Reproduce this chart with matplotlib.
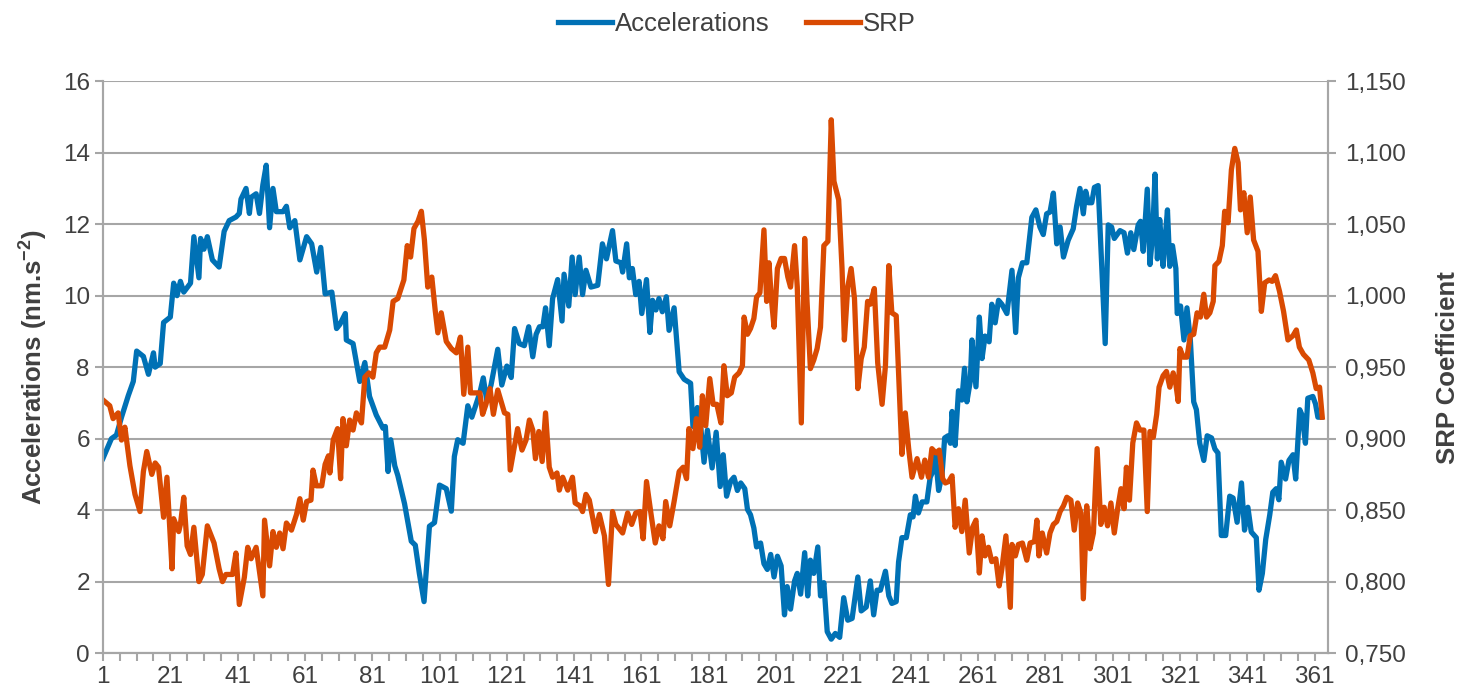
import matplotlib
matplotlib.use('Agg')
from matplotlib import pyplot as plt
from matplotlib.ticker import FuncFormatter

plt.rcParams['font.family'] = ['Liberation Sans', 'DejaVu Sans']
plt.rcParams['mathtext.fontset'] = 'custom'
plt.rcParams['mathtext.rm'] = 'Liberation Sans'
plt.rcParams['mathtext.bf'] = 'Liberation Sans:bold'

# accelerations (left axis), day of year -> nm.s-2
acc_day = [1, 3.5, 5, 6.5, 8.5, 10, 11, 13, 14.5, 16, 16.5, 18, 19, 21, 22, 23, 24, 25, 27, 28,
           29.5, 30, 31, 32, 33.5, 35.5, 37, 38.5, 40.5, 41.5, 42, 43.5, 44.5, 45, 46.5, 47.5, 48.5, 49.5, 50.5, 51.5,
           52.5, 54.5, 55.5, 56.5, 58, 59.5, 61.5, 63, 64.5, 65.7, 67, 69, 70.4, 71.4, 73, 73.3, 75.3, 77.3, 78.8, 80.2,
           82.2, 84.2, 84.9, 85.7, 86.5, 87.7, 88.6, 90.6, 92.6, 93.8, 95, 96.4, 98, 99.5, 101, 103, 104.5, 105.4, 106.4, 108,
           109.4, 110.6, 111.9, 113, 114, 115, 116.3, 118.3, 119.5, 121, 122.3, 123.3, 124.7, 126.2, 127.5, 128.7, 129.7, 130.7, 131.7, 132.5,
           133.6, 134.6, 136.1, 137.4, 138, 139.4, 140.4, 141.3, 142.5, 143.5, 144.5, 146, 148, 149.4, 150.6, 152.4, 153.4, 154.9, 155.4, 156.6,
           157.4, 158.3, 159.3, 160.3, 161.1, 162.5, 163.5, 164.3, 165.3, 166.2, 167.2, 168.4, 169.2, 170.7, 172.2, 173.7, 175.6, 176.3, 177.6, 178.6,
           179.6, 180.6, 182, 183.2, 184.4, 185.3, 186.3, 187.5, 188.5, 189.5, 190.5, 191.7, 192.5, 193.4, 194.4, 195.2, 196.4, 197.4, 198.4, 199.4,
           200.4, 201.4, 202.5, 203.5, 204.3, 205.3, 206.5, 207.3, 208.3, 209.5, 210.4, 211.2, 212.2, 213.4, 214.2, 215.2, 216.2, 217.4, 218.6, 219.9,
           221.1, 222.3, 223.6, 225.3, 226.3, 227.8, 229, 230, 231, 232, 233.5, 234.5, 235.4, 236.7, 237.4, 238.4, 239.7, 240.9, 241.7, 242.4,
           243.3, 244.4, 245.8, 246.8, 247.8, 248.3, 249.3, 250.3, 251.1, 252.1, 252.8, 253.3, 254.2, 255.2, 256.2, 257, 257.7, 258.7, 259.2, 260.4,
           261.4, 262.2, 263.1, 264.3, 265.1, 266.1, 267.1, 268.1, 269.6, 271.1, 272.2, 273, 274.2, 275.5, 277, 278.2, 279.4, 280.4, 281.4, 282.4,
           283.4, 284.4, 285.4, 286.4, 287.8, 289.3, 290.3, 291.3, 292.3, 293, 293.8, 294.8, 295.6, 296.7, 298.8, 299.7, 300.7, 301.5, 303.2, 304.4,
           305.4, 306.4, 307.3, 308.6, 309.3, 310.1, 311.3, 312.1, 312.9, 313.6, 314.3, 315, 316, 316.8, 317.3, 318, 318.8, 319.8, 320.2, 321.2,
           322.2, 323.1, 324.1, 325.1, 325.9, 326.9, 328.1, 329.1, 330.4, 331.4, 332.3, 333.3, 334.6, 335.8, 336.8, 338, 339.3, 340.2, 341.2, 342.2,
           343.7, 344.5, 345.5, 346.5, 347.7, 348.6, 349.6, 350.4, 351.1, 352.4, 353.4, 354.6, 355.4, 356.6, 357.3, 358.3, 359, 360.5, 361.3, 362,
           363]
acc_val = [5.45, 6.0, 6.1, 6.6, 7.2, 7.6, 8.45, 8.3, 7.8, 8.4, 8.0, 8.1, 9.25, 9.4, 10.35, 10.0, 10.4, 10.1, 10.35, 11.65,
           10.5, 11.6, 11.3, 11.65, 11.0, 10.8, 11.8, 12.1, 12.2, 12.3, 12.7, 13.0, 12.3, 12.75, 12.85, 12.3, 13.1, 13.65, 11.9, 13.0,
           12.35, 12.35, 12.5, 11.9, 12.1, 11.0, 11.65, 11.45, 10.66, 11.35, 10.05, 10.1, 9.08, 9.2, 9.5, 8.76, 8.66, 7.6, 8.13, 7.18,
           6.66, 6.29, 6.34, 5.08, 5.97, 5.24, 4.97, 4.18, 3.13, 3.02, 2.23, 1.44, 3.55, 3.65, 4.7, 4.6, 3.97, 5.5, 5.97, 5.87,
           6.92, 6.6, 6.97, 7.29, 7.7, 7.08, 7.5, 8.5, 7.5, 8.03, 7.71, 9.08, 8.66, 8.6, 9.13, 8.29, 8.92, 9.13, 9.13, 9.66,
           8.6, 9.92, 10.45, 9.29, 10.6, 9.71, 11.08, 10.03, 11.08, 10.03, 10.71, 10.24, 10.29, 11.45, 11.03, 11.82, 10.97, 10.92, 10.66, 11.45,
           10.5, 10.76, 10.03, 10.4, 9.5, 10.45, 8.97, 9.87, 9.6, 9.92, 9.55, 9.97, 9.03, 9.66, 7.87, 7.66, 7.55, 6.34, 6.87, 6.34,
           5.34, 6.24, 5.18, 6.18, 4.66, 5.55, 4.39, 4.81, 4.92, 4.55, 4.76, 4.6, 4.02, 3.87, 3.5, 2.97, 3.08, 2.5, 2.34, 2.76,
           2.13, 2.71, 2.44, 1.07, 1.86, 1.23, 2.02, 2.23, 1.65, 2.81, 1.6, 2.6, 2.23, 2.97, 1.6, 1.97, 0.6, 0.39, 0.55, 0.44,
           1.55, 0.92, 0.97, 2.13, 1.18, 1.29, 2.02, 1.07, 1.76, 1.76, 2.29, 1.6, 1.39, 1.44, 2.55, 3.23, 3.23, 3.87, 3.81, 4.39,
           3.92, 4.23, 4.23, 4.92, 5.13, 5.6, 4.55, 4.97, 6.02, 6.08, 5.87, 6.76, 5.81, 7.34, 7.08, 7.97, 7.03, 7.6, 8.76, 7.45,
           9.4, 8.24, 8.87, 8.71, 9.76, 9.24, 9.87, 9.76, 9.5, 10.71, 8.97, 10.5, 10.92, 10.92, 12.19, 12.4, 11.92, 11.71, 12.29, 12.34,
           12.87, 11.45, 11.92, 11.08, 11.55, 11.87, 12.5, 13.0, 12.29, 12.92, 12.6, 12.6, 13.03, 13.08, 8.66, 11.98, 11.92, 11.6, 11.82, 11.76,
           11.19, 11.76, 11.29, 11.98, 12.08, 11.24, 12.98, 10.87, 11.71, 13.4, 11.03, 12.13, 10.82, 11.82, 12.4, 10.82, 11.4, 10.76, 9.5, 9.71,
           8.76, 9.66, 8.76, 7.03, 6.81, 5.87, 5.39, 6.08, 6.02, 5.71, 5.6, 3.29, 3.29, 4.39, 4.34, 3.66, 4.76, 3.44, 4.08, 3.39,
           3.23, 1.76, 2.23, 3.18, 3.87, 4.5, 4.6, 4.29, 5.34, 4.87, 5.39, 5.55, 4.87, 6.81, 6.66, 5.87, 7.13, 7.18, 6.97, 6.6,
           6.6]

# SRP coefficient (right axis)
srp_day = [1, 3, 4, 5.5, 6.5, 7.5, 9, 10.5, 12, 13, 14, 15.5, 16.5, 17.5, 19, 20, 21.5, 22, 23.5, 24,
           25, 26, 27, 28, 29.5, 30.5, 32, 34, 35.5, 36.5, 37.5, 39.5, 40.5, 41.5, 43, 44, 45, 46.5, 48.5, 49,
           50.5, 51.5, 52.5, 53.5, 54.5, 55.5, 57, 58.5, 59.5, 60.5, 61.5, 62.8, 63.4, 64.4, 66, 67, 68, 68.4, 69.4, 70.7,
           71.6, 72.3, 73.3, 74.3, 75.3, 76.3, 77.8, 78.8, 80, 81.2, 82.2, 83.2, 84.7, 86.2, 87.2, 88.6, 90.4, 91.4, 92.4, 93.4,
           94.6, 95.6, 96.5, 97.5, 98.7, 99.7, 100.5, 101.5, 103, 104.5, 106, 107.2, 108.2, 109.4, 110.2, 111.4, 113, 113.8, 114.8, 116,
           117, 118.3, 120.3, 121.3, 122, 124.2, 125.5, 126.7, 127.7, 128.7, 129.5, 130.5, 131.5, 132.5, 133.6, 134.6, 135.9, 136.6, 137.6, 139.1,
           140.5, 141.3, 142.7, 143.5, 144.5, 145.5, 147.3, 148.5, 150, 151.2, 152.4, 153.4, 155.4, 156.9, 158.1, 159.3, 160.6, 161.5, 162.5, 163.8,
           165.1, 166.2, 167.4, 168.2, 169.4, 170.7, 172.2, 173.4, 174.4, 175.1, 176.3, 177.3, 178.3, 179.1, 180.1, 181.3, 182.3, 183.4, 184.6, 185.5,
           186.5, 187.7, 188.7, 190, 191, 191.5, 192.5, 193.4, 194.4, 195.2, 196.2, 197.4, 198.2, 198.9, 199.6, 200.4, 201.4, 202.5, 203.5, 204.5,
           205.3, 206.5, 207.3, 208.5, 209.5, 210.2, 211.2, 212.2, 213.2, 214.2, 215.2, 216.4, 217.4, 218.2, 219.6, 220.6, 221.3, 222.3, 223.3, 224.3,
           225.3, 226.3, 227.2, 228.2, 229, 230.2, 231.2, 232.5, 233.5, 234.5, 235.4, 236.7, 237.4, 238.4, 239.4, 240.4, 241.4, 242.9, 244.2, 245.2,
           246.3, 247.3, 248.5, 249.5, 250.5, 251.3, 252.3, 253.3, 254.2, 255.2, 256.2, 257.2, 258.4, 259.4, 260.4, 261.4, 262.2, 263.1, 264.1, 265.1,
           266.3, 267.3, 268.1, 269.3, 270.6, 271.1, 272.1, 273, 274.2, 275.5, 276.5, 277.8, 278.5, 279.1, 280.1, 281.4, 282.4, 283.4, 284.4, 285.4,
           286.4, 287.4, 288.6, 289.6, 290.6, 291.6, 292.3, 293.3, 294.3, 295.3, 296.4, 297.5, 298.5, 299.5, 300.5, 301.5, 302.5, 303.5, 304.4, 305.1,
           306, 307, 308.1, 309.1, 310.3, 311.3, 312.1, 313.1, 314.1, 314.8, 316, 317, 318, 319, 319.8, 320.5, 321, 322, 323.1, 324.1,
           325.1, 326.1, 327.1, 328.1, 328.9, 329.9, 330.9, 331.4, 332.6, 333.6, 334.3, 335.3, 336.3, 337.3, 338.3, 339, 340, 341, 341.9, 342.9,
           344.2, 345.2, 346.2, 347.5, 348.4, 349.4, 350.6, 351.8, 353.1, 354.6, 355.6, 356.5, 357.7, 359.3, 360.5, 361.5, 362.5, 363.3]
srp_val = [0.927, 0.923, 0.914, 0.918, 0.899, 0.908, 0.881, 0.861, 0.849, 0.877, 0.891, 0.875, 0.883, 0.880, 0.845, 0.873, 0.809, 0.844, 0.835, 0.840,
           0.859, 0.825, 0.819, 0.838, 0.800, 0.805, 0.839, 0.827, 0.809, 0.800, 0.805, 0.805, 0.820, 0.784, 0.803, 0.824, 0.816, 0.824, 0.790, 0.843,
           0.811, 0.835, 0.824, 0.834, 0.823, 0.841, 0.836, 0.847, 0.858, 0.843, 0.856, 0.857, 0.878, 0.867, 0.867, 0.882, 0.888, 0.876, 0.899, 0.907,
           0.872, 0.914, 0.895, 0.913, 0.906, 0.918, 0.911, 0.943, 0.946, 0.943, 0.960, 0.964, 0.964, 0.976, 0.996, 0.998, 1.011, 1.035, 1.027, 1.047,
           1.052, 1.059, 1.039, 1.006, 1.013, 0.990, 0.974, 0.988, 0.968, 0.963, 0.960, 0.971, 0.931, 0.964, 0.932, 0.932, 0.932, 0.917, 0.924, 0.935,
           0.917, 0.934, 0.918, 0.917, 0.878, 0.907, 0.892, 0.899, 0.913, 0.906, 0.886, 0.905, 0.884, 0.918, 0.880, 0.873, 0.876, 0.864, 0.873, 0.864,
           0.873, 0.855, 0.853, 0.849, 0.861, 0.857, 0.835, 0.847, 0.832, 0.798, 0.849, 0.840, 0.834, 0.848, 0.840, 0.848, 0.849, 0.830, 0.870, 0.848,
           0.827, 0.839, 0.830, 0.856, 0.839, 0.856, 0.877, 0.880, 0.872, 0.907, 0.893, 0.914, 0.894, 0.930, 0.909, 0.942, 0.924, 0.924, 0.911, 0.951,
           0.930, 0.932, 0.943, 0.946, 0.951, 0.985, 0.973, 0.977, 0.984, 0.999, 1.002, 1.046, 0.996, 1.023, 0.998, 0.978, 1.019, 1.026, 1.026, 1.013,
           1.006, 1.035, 1.006, 0.911, 1.040, 0.996, 0.949, 0.955, 0.963, 0.978, 1.035, 1.038, 1.123, 1.080, 1.067, 1.019, 0.969, 1.006, 1.019, 0.998,
           0.935, 0.956, 0.964, 0.996, 0.994, 1.005, 0.953, 0.924, 0.951, 1.021, 0.988, 0.986, 0.946, 0.889, 0.918, 0.893, 0.873, 0.886, 0.873, 0.885,
           0.873, 0.893, 0.890, 0.892, 0.872, 0.869, 0.870, 0.874, 0.838, 0.851, 0.835, 0.857, 0.820, 0.838, 0.843, 0.806, 0.832, 0.818, 0.824, 0.814,
           0.816, 0.797, 0.809, 0.832, 0.782, 0.826, 0.818, 0.826, 0.827, 0.815, 0.827, 0.828, 0.843, 0.818, 0.834, 0.820, 0.834, 0.840, 0.842, 0.849,
           0.853, 0.859, 0.857, 0.836, 0.855, 0.848, 0.788, 0.853, 0.823, 0.834, 0.893, 0.840, 0.852, 0.839, 0.855, 0.834, 0.851, 0.865, 0.851, 0.880,
           0.857, 0.897, 0.911, 0.906, 0.906, 0.849, 0.905, 0.901, 0.917, 0.936, 0.944, 0.947, 0.936, 0.946, 0.938, 0.926, 0.963, 0.957, 0.957, 0.972,
           0.973, 0.988, 0.985, 1.001, 0.985, 0.988, 0.996, 1.021, 1.024, 1.035, 1.059, 1.051, 1.088, 1.103, 1.093, 1.060, 1.072, 1.044, 1.069, 1.039,
           1.031, 0.989, 1.009, 1.011, 1.010, 1.014, 1.003, 0.989, 0.969, 0.972, 0.976, 0.964, 0.959, 0.955, 0.946, 0.935, 0.936, 0.915]

x_labels = list(range(1, 362, 20))

blue = '#0071B5'
orange = '#D94A02'
grid_c = '#A6A6A6'
text_c = '#404040'

fig = plt.figure(figsize=(14.59, 7.0), dpi=100)
ax = fig.add_axes([0.0706, 0.067, 0.8396, 0.817])
ax2 = ax.twinx()

l1, = ax.plot(acc_day, acc_val, color=blue, lw=3.8, solid_joinstyle='round', label='Accelerations')
l2, = ax2.plot(srp_day, srp_val, color=orange, lw=3.8, solid_joinstyle='round', label='SRP')

ax.set_xlim(1, 365)
ax.set_ylim(0, 16)
ax2.set_ylim(0.75, 1.15)
ax.set_yticks(range(0, 17, 2))
ax2.set_yticks([0.75 + 0.05 * i for i in range(9)])
ax2.yaxis.set_major_formatter(FuncFormatter(lambda v, p: '{:.3f}'.format(v).replace('.', ',')))
ax.set_xticks(x_labels)
ax.set_xticks(list(range(1, 366, 5)), minor=True)

ax.grid(axis='y', color=grid_c, lw=1.5)
ax.set_axisbelow(True)
for a in (ax, ax2):
    for s in a.spines.values():
        s.set_color(grid_c)
        s.set_linewidth(1.5)
    a.spines['top'].set_visible(False)
ax.tick_params(axis='both', which='both', color=grid_c, width=1.5, length=6, labelsize=17.5, labelcolor=text_c)
ax.tick_params(axis='x', which='major', pad=3)
ax2.tick_params(axis='y', color=grid_c, width=1.5, length=6, labelsize=17.5, labelcolor=text_c, pad=6)

ax.set_ylabel(r'Accelerations (nm.s$^{\mathbf{-2}}$)', fontsize=18.5, fontweight='bold', color=text_c, labelpad=10)
ax2.set_ylabel('SRP Coefficient', fontsize=18.5, fontweight='bold', color=text_c, labelpad=22)

fig.legend(handles=[l1, l2], loc='center', bbox_to_anchor=(0.505, 0.966), ncol=2, frameon=False,
           fontsize=18.5, handlelength=2.1, columnspacing=1.4, handletextpad=0.12, labelcolor=text_c)

fig.savefig('out.png', dpi=100)
